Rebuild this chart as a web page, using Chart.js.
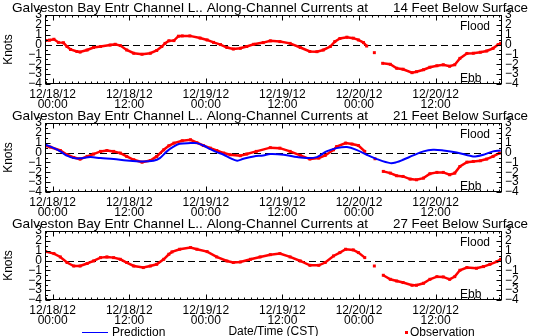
<!DOCTYPE html>
<html>
<head>
<meta charset="utf-8">
<script src="https://cdn.jsdelivr.net/npm/chart.js@4.4.1/dist/chart.umd.min.js"></script>
<style>
  html, body { margin: 0; padding: 0; background: #fff; }
  #wrap { position: relative; width: 540px; height: 336px; overflow: hidden; }
  canvas { position: absolute; left: 0; }
</style>
</head>
<body>
<div id="wrap">
  <canvas id="panel14" width="540" height="112" style="top:0px"></canvas>
  <canvas id="panel21" width="540" height="112" style="top:108px"></canvas>
  <canvas id="panel27" width="540" height="120" style="top:216px"></canvas>
</div>
<script>
// x values are hours after 12/18/12 00:00 CST
const tickHours = [0, 12, 24, 36, 48, 60];
const tickDates = ["12/18/12", "12/18/12", "12/19/12", "12/19/12", "12/20/12", "12/20/12"];
const tickTimes = ["00:00", "12:00", "00:00", "12:00", "00:00", "12:00"];
const hoursMin = -1.2;
const hoursMax = 70.4;
const knotsMin = -4;
const knotsMax = 3;

const titleLeft = "Galveston Bay Entr Channel L.. Along-Channel Currents at";
const depthTitles = ["14 Feet Below Surface", "21 Feet Below Surface", "27 Feet Below Surface"];
const floodEbb = ["Flood", "Ebb"];
const legendNames = ["Prediction", "Observation"];
const xTitle = "Date/Time (CST)";
const yTitle = "Knots";

const obsColor = "#ff0000";
const predColor = "#0000ff";

// 14 ft observations (null = no data)
const obsHours14 = [-1.1, -0.5, 0.2, 0.9, 1.7, 2.25, 2.8, 3.8, 4.3, 5.4, 6.4, 7.5, 9.0, 9.8, 10.6, 11.6, 12.7, 14.0, 15.3, 16.3, 17.1, 17.6, 18.2, 19.0, 19.7, 20.3, 21.5, 23.1, 24.2, 25.2, 26.3, 27.3, 28.3, 29.4, 30.4, 31.5, 33.0, 34.1, 35.6, 37.2, 38.8, 40.3, 41.4, 42.4, 43.5, 44.2, 45.0, 46.1, 47.1, 47.9, 48.7, 49.2, 49.8, 50.4, 51.0, 51.7, 52.9, 53.9, 54.9, 56.3, 57.0, 58.1, 59.1, 60.2, 61.2, 62.2, 63.0, 63.8, 64.9, 65.9, 67.0, 68.0, 69.0, 69.8, 70.2];
const obsKnots14 = [0.42, 0.45, 0.54, 0.22, 0.18, -0.2, -0.5, -0.7, -0.76, -0.55, -0.3, -0.2, -0.05, 0.03, -0.1, -0.55, -0.88, -0.98, -0.88, -0.6, -0.2, 0.12, 0.38, 0.4, 0.85, 0.88, 0.88, 0.66, 0.47, 0.22, 0.0, -0.3, -0.45, -0.38, -0.2, 0.03, 0.2, 0.38, 0.3, 0.12, -0.3, -0.7, -0.72, -0.55, -0.2, 0.3, 0.62, 0.75, 0.65, 0.47, 0.2, -0.15, null, -0.82, null, -1.9, -2.0, -2.4, -2.5, -2.85, -2.75, -2.55, -2.3, -2.15, -2.05, -2.2, -2.05, -1.4, -0.9, -0.88, -0.78, -0.65, -0.38, 0.0, 0.13];

// 21 ft observations and prediction
const obsHours21 = [-1.1, -0.4, 1.2, 2.25, 3.3, 4.3, 5.4, 6.4, 7.5, 8.5, 9.55, 10.6, 11.6, 12.7, 14.0, 15.3, 16.3, 17.4, 18.2, 19.0, 20.3, 21.6, 22.6, 23.6, 24.7, 25.7, 26.8, 27.8, 29.4, 30.4, 31.9, 34.1, 35.6, 37.2, 38.8, 40.3, 41.7, 42.7, 44.0, 44.5, 45.9, 46.9, 47.9, 48.9, 49.8, 50.5, 51.1, 51.8, 52.9, 53.9, 54.9, 56.0, 57.0, 58.1, 59.1, 60.2, 61.2, 62.2, 63.0, 63.8, 64.9, 65.9, 67.0, 68.0, 69.0, 70.0];
const obsKnots21 = [0.69, 0.56, 0.21, -0.22, -0.5, -0.66, -0.39, -0.15, 0.12, 0.21, 0.12, -0.05, -0.39, -0.73, -0.97, -0.8, -0.39, 0.28, 0.69, 0.96, 1.2, 1.3, 1.0, 0.72, 0.45, 0.21, -0.05, -0.22, -0.32, -0.15, 0.12, 0.5, 0.45, 0.12, -0.29, -0.66, -0.56, -0.29, 0.28, 0.62, 0.96, 0.86, 0.72, 0.12, null, -0.63, null, -1.91, -2.08, -2.35, -2.42, -2.69, -2.76, -2.59, -2.15, -2.01, -2.01, -2.25, -2.08, -1.41, -0.97, -0.9, -0.83, -0.66, -0.39, -0.05];
const predHours21 = [-1.1, 0.2, 1.2, 2.25, 3.3, 4.3, 5.9, 7.5, 9.55, 11.6, 13.8, 15.8, 16.8, 17.9, 19.0, 19.9, 21.6, 22.6, 23.6, 24.7, 25.7, 26.8, 27.8, 28.9, 29.9, 31.5, 33.0, 34.1, 36.2, 38.3, 39.8, 41.4, 42.9, 44.5, 46.1, 47.6, 49.2, 50.8, 52.9, 53.9, 54.9, 56.5, 58.1, 59.6, 61.2, 63.3, 65.4, 66.2, 67.5, 69.0, 70.2];
const predKnots21 = [0.79, 0.45, 0.12, -0.32, -0.56, -0.58, -0.46, -0.56, -0.66, -0.8, -0.9, -0.83, -0.56, 0.12, 0.62, 0.89, 0.96, 0.96, 0.72, 0.35, 0.05, -0.22, -0.56, -0.83, -0.63, -0.39, -0.29, -0.15, -0.22, -0.46, -0.56, -0.46, 0.12, 0.45, 0.56, 0.28, -0.22, -0.66, -1.07, -0.97, -0.73, -0.29, 0.12, 0.28, 0.21, 0.01, -0.32, -0.39, -0.22, 0.12, 0.21];

// 27 ft observations
const obsHours27 = [-1.1, 0.2, 1.2, 2.25, 3.3, 4.3, 5.4, 6.4, 7.5, 8.5, 9.55, 10.6, 11.6, 12.7, 14.2, 15.3, 16.3, 17.4, 18.2, 18.7, 19.9, 21.6, 22.6, 24.2, 25.7, 27.3, 28.3, 29.4, 31.0, 32.5, 34.1, 35.6, 37.2, 38.8, 40.3, 41.7, 42.7, 44.0, 45.0, 45.9, 47.1, 47.9, 48.9, 49.7, 50.4, 51.0, 51.8, 52.9, 53.9, 54.9, 56.3, 57.0, 58.1, 59.1, 60.2, 61.2, 62.2, 63.0, 63.8, 64.9, 66.4, 67.5, 68.5, 69.6, 70.2];
const obsKnots27 = [0.91, 0.71, 0.37, -0.2, -0.55, -0.55, -0.3, -0.04, 0.3, 0.37, 0.3, 0.13, -0.2, -0.55, -0.71, -0.55, -0.38, 0.13, 0.64, 0.88, 1.15, 1.32, 1.15, 0.91, 0.37, -0.04, -0.2, -0.14, 0.13, 0.37, 0.6, 0.71, 0.37, -0.04, -0.48, -0.48, -0.2, 0.47, 0.81, 1.15, 1.08, 0.81, 0.3, null, -0.55, null, -1.49, -1.9, -2.07, -2.23, -2.5, -2.5, -2.3, -1.9, -1.63, -1.66, -1.9, -1.63, -0.98, -0.71, -0.78, -0.61, -0.38, -0.1, 0.13];

Chart.defaults.font.family = "'Liberation Sans', Arial, sans-serif";
Chart.defaults.font.size = 12;
Chart.defaults.color = "#000";

function toPoints(hours, knots) {
  return hours.map((h, i) => ({ x: h, y: knots[i] }));
}

function knotLabel(v) {
  return v < 0 ? "\u2212" + Math.abs(v) : String(v);
}

// stretch a string to a given width, the plot font is wider than ours
function fitText(ctx, text, x, y, width) {
  const w = ctx.measureText(text).width;
  ctx.save();
  ctx.translate(x, y);
  ctx.scale(width / w, 1);
  ctx.fillText(text, 0, 0);
  ctx.restore();
}

const panelFrame = {
  id: "panelFrame",
  beforeDatasetsDraw(chart) {
    const { ctx, chartArea: a, scales: { y } } = chart;
    const y0 = Math.round(y.getPixelForValue(0)) + 0.5;
    ctx.save();
    ctx.strokeStyle = "#000";
    ctx.lineWidth = 1;
    ctx.setLineDash([7, 4]);
    ctx.beginPath();
    ctx.moveTo(a.left, y0);
    ctx.lineTo(a.right, y0);
    ctx.stroke();
    ctx.restore();
  },
  afterDraw(chart, args, opts) {
    const { ctx, chartArea: a, scales: { x, y } } = chart;
    const L = Math.round(a.left) + 0.5;
    const R = Math.round(a.right) - 0.5;
    const T = Math.round(a.top) + 0.5;
    const B = Math.round(a.bottom) - 0.5;
    ctx.save();
    ctx.strokeStyle = "#000";
    ctx.lineWidth = 1;
    ctx.strokeRect(L, T, R - L, B - T);

    // inward ticks: hourly minor, 12 h major
    ctx.beginPath();
    for (let h = Math.ceil(x.min); h <= x.max; h++) {
      const px = Math.round(x.getPixelForValue(h)) + 0.5;
      const len = h % 12 === 0 ? 5 : 2;
      ctx.moveTo(px, B);
      ctx.lineTo(px, B - len);
      ctx.moveTo(px, T);
      ctx.lineTo(px, T + len);
    }
    for (let k = y.min; k <= y.max; k += 0.5) {
      const py = Math.round(y.getPixelForValue(k)) + 0.5;
      const len = Number.isInteger(k) ? 5 : 2.5;
      ctx.moveTo(L, py);
      ctx.lineTo(L + len, py);
      ctx.moveTo(R, py);
      ctx.lineTo(R - len, py);
    }
    ctx.stroke();

    ctx.fillStyle = "#000";
    ctx.textBaseline = "alphabetic";
    ctx.font = "13px 'Liberation Sans'";
    fitText(ctx, titleLeft, 12, a.top - 3.5, 356);
    fitText(ctx, opts.depth, 393, a.top - 3.5, 135);

    ctx.font = "12px 'Liberation Sans'";
    ctx.fillText(floodEbb[0], a.right - 42, a.top + 14.5);
    ctx.fillText(floodEbb[1], a.right - 42, a.bottom - 2.5);
    ctx.restore();
  },
};

const bottomKey = {
  id: "bottomKey",
  afterDraw(chart) {
    const { ctx } = chart;
    ctx.save();
    ctx.strokeStyle = predColor;
    ctx.lineWidth = 1;
    ctx.beginPath();
    ctx.moveTo(82, 116.5);
    ctx.lineTo(108, 116.5);
    ctx.stroke();
    ctx.fillStyle = obsColor;
    ctx.fillRect(405, 115, 3, 3);
    ctx.fillStyle = "#000";
    ctx.font = "12px 'Liberation Sans'";
    ctx.textBaseline = "alphabetic";
    ctx.fillText(legendNames[0], 112, 119.5);
    ctx.fillText(legendNames[1], 410, 119.5);
    ctx.restore();
  },
};

function obsDataset(hours, knots) {
  return {
    label: legendNames[1],
    data: toPoints(hours, knots),
    showLine: true,
    spanGaps: false,
    borderColor: obsColor,
    borderWidth: 2.5,
    backgroundColor: obsColor,
    pointStyle: "rect",
    pointRadius: 2.1,
    pointBorderWidth: 0,
    pointBackgroundColor: obsColor,
  };
}

function predDataset(hours, knots) {
  return {
    label: legendNames[0],
    data: toPoints(hours, knots),
    showLine: true,
    borderColor: predColor,
    borderWidth: 2,
    tension: 0.35,
    pointRadius: 0,
  };
}

function makePanel(id, depth, datasets, isLast) {
  const canvas = document.getElementById(id);
  const h = canvas.height;
  const plugins = [panelFrame];
  if (isLast) plugins.push(bottomKey);

  new Chart(canvas, {
    type: "scatter",
    data: { datasets: datasets },
    plugins: plugins,
    options: {
      responsive: false,
      animation: false,
      layout: { padding: { top: 15, left: 0, right: 0, bottom: 0 } },
      plugins: {
        legend: { display: false },
        tooltip: { enabled: false },
        panelFrame: { depth: depth },
      },
      scales: {
        x: {
          type: "linear",
          position: "bottom",
          min: hoursMin,
          max: hoursMax,
          grid: { display: false, drawTicks: false, tickLength: 0 },
          border: { display: false },
          afterBuildTicks: (s) => {
            s.ticks = tickHours.map((v) => ({ value: v }));
          },
          afterFit: (s) => {
            s.height = h - 84;
          },
          ticks: {
            autoSkip: false,
            maxRotation: 0,
            minRotation: 0,
            padding: 6,
            font: { size: 12, lineHeight: 0.8 },
            callback: (v) => {
              const i = tickHours.indexOf(v);
              return i < 0 ? "" : [tickDates[i], tickTimes[i]];
            },
          },
          title: {
            display: isLast,
            text: xTitle,
            font: { size: 12, lineHeight: 0.7 },
            padding: 0,
          },
        },
        y: {
          type: "linear",
          position: "left",
          min: knotsMin,
          max: knotsMax,
          grid: { display: false, drawTicks: false, tickLength: 0 },
          border: { display: false },
          afterFit: (s) => {
            s.width = 45;
          },
          ticks: {
            stepSize: 1,
            autoSkip: false,
            padding: 3,
            callback: knotLabel,
          },
          title: {
            display: true,
            text: yTitle,
            font: { size: 12 },
            padding: { top: 1, bottom: 0 },
          },
        },
        y2: {
          type: "linear",
          position: "right",
          display: true,
          min: knotsMin,
          max: knotsMax,
          grid: { display: false, drawTicks: false, tickLength: 0 },
          border: { display: false },
          afterFit: (s) => {
            s.width = 38;
          },
          ticks: {
            stepSize: 1,
            autoSkip: false,
            padding: 3,
            callback: knotLabel,
          },
        },
      },
    },
  });
}

makePanel("panel14", depthTitles[0], [obsDataset(obsHours14, obsKnots14)], false);
makePanel("panel21", depthTitles[1], [predDataset(predHours21, predKnots21), obsDataset(obsHours21, obsKnots21)], false);
makePanel("panel27", depthTitles[2], [obsDataset(obsHours27, obsKnots27)], true);
</script>
</body>
</html>
